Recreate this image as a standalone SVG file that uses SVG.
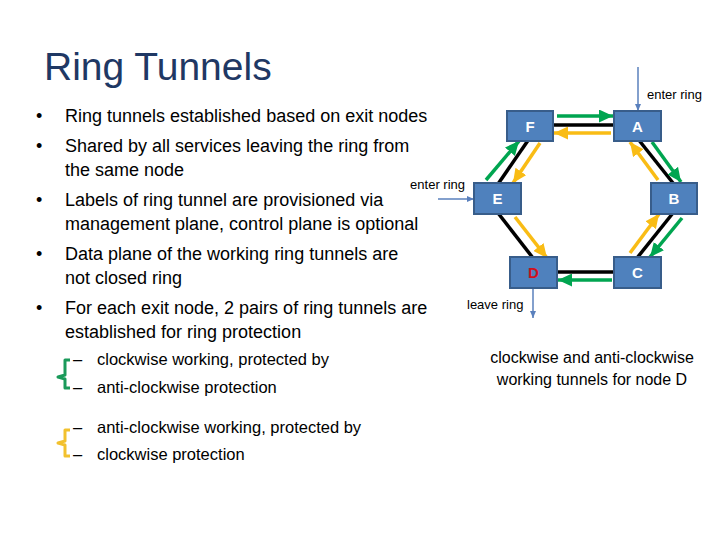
<svg xmlns="http://www.w3.org/2000/svg" width="720" height="540" viewBox="0 0 720 540">
<style>
.title{font-family:"Liberation Sans",Arial,sans-serif;font-size:39px;fill:#1f3864}
.body{font-family:"Liberation Sans",Arial,sans-serif;font-size:18px;fill:#000}
.sub{font-family:"Liberation Sans",Arial,sans-serif;font-size:16.5px;fill:#000}
.small{font-family:"Liberation Sans",Arial,sans-serif;font-size:13px;fill:#000}
.cap{font-family:"Liberation Sans",Arial,sans-serif;font-size:16px;fill:#000;text-anchor:middle}
.box{fill:#4f81bd;stroke:#385d8a;stroke-width:2}
.lbl{font-family:"Liberation Sans",Arial,sans-serif;font-size:15px;font-weight:bold;fill:#fff;text-anchor:middle}
.blk{stroke:#000;stroke-width:3.5;fill:none}
.grn{stroke:#00a550;stroke-width:3.5;fill:none;marker-end:url(#mg)}
.yel{stroke:#f9bc15;stroke-width:3.5;fill:none;marker-end:url(#my)}
.blu{stroke:#5a80bd;stroke-width:1.5;fill:none;marker-end:url(#mb)}
.brk{stroke-width:3;fill:none;stroke-linejoin:round}
</style>
<defs>
<marker id="mg" markerUnits="userSpaceOnUse" markerWidth="15" markerHeight="13" refX="14" refY="6.5" orient="auto"><path d="M0,0 L14,6.5 L0,13 z" fill="#00a550"/></marker>
<marker id="my" markerUnits="userSpaceOnUse" markerWidth="15" markerHeight="13" refX="14" refY="6.5" orient="auto"><path d="M0,0 L14,6.5 L0,13 z" fill="#f9bc15"/></marker>
<marker id="mb" markerUnits="userSpaceOnUse" markerWidth="8" markerHeight="8" refX="7" refY="4" orient="auto"><path d="M0,1 L7,4 L0,7 z" fill="#5a80bd"/></marker>
</defs>
<rect width="720" height="540" fill="#fff"/>
<text class="title" x="44" y="80">Ring Tunnels</text>
<g id="bullets">
<text class="body" x="36" y="122">•</text><text class="body" x="65" y="122">Ring tunnels established based on exit nodes</text>
<text class="body" x="36" y="152">•</text><text class="body" x="65" y="152">Shared by all services leaving the ring from</text>
<text class="body" x="65" y="176">the same node</text>
<text class="body" x="36" y="206">•</text><text class="body" x="65" y="206">Labels of ring tunnel are provisioned via</text>
<text class="body" x="65" y="230">management plane, control plane is optional</text>
<text class="body" x="36" y="260">•</text><text class="body" x="65" y="260">Data plane of the working ring tunnels are</text>
<text class="body" x="65" y="284">not closed ring</text>
<text class="body" x="36" y="314">•</text><text class="body" x="65" y="314">For each exit node, 2 pairs of ring tunnels are</text>
<text class="body" x="65" y="338">established for ring protection</text>
<text class="sub" x="73" y="365">–</text><text class="sub" x="97" y="365">clockwise working, protected by</text>
<text class="sub" x="73" y="393">–</text><text class="sub" x="97" y="393">anti-clockwise protection</text>
<text class="sub" x="73" y="433">–</text><text class="sub" x="97" y="433">anti-clockwise working, protected by</text>
<text class="sub" x="73" y="460">–</text><text class="sub" x="97" y="460">clockwise protection</text>
<path class="brk" stroke="#1a9a5a" d="M70,360 L65,360 L65,375 L58,377 L65,379 L65,388 L70,388"/>
<path class="brk" stroke="#f2c12e" d="M70,430 L65,430 L65,441 L58,443 L65,445 L65,456 L70,456"/>
</g>
<g id="connectors">
<line class="blk" x1="553" y1="125" x2="614" y2="125"/>
<line class="blk" x1="529" y1="139" x2="498" y2="184"/>
<line class="blk" x1="638" y1="139" x2="673" y2="183"/>
<line class="blk" x1="498" y1="213" x2="533" y2="258"/>
<line class="blk" x1="557" y1="272" x2="614" y2="272"/>
<line class="blk" x1="637" y1="258" x2="673" y2="213"/>
<line class="grn" x1="557" y1="116" x2="613" y2="116"/>
<line class="yel" x1="611" y1="133" x2="554" y2="133"/>
<line class="grn" x1="486" y1="180" x2="519" y2="141"/>
<line class="yel" x1="540" y1="143" x2="513" y2="183"/>
<line class="grn" x1="652" y1="142" x2="681" y2="182"/>
<line class="yel" x1="658" y1="180" x2="630" y2="142"/>
<line class="yel" x1="515" y1="217" x2="547" y2="258"/>
<line class="grn" x1="612" y1="280" x2="558" y2="280"/>
<line class="grn" x1="682" y1="218" x2="650" y2="257"/>
<line class="yel" x1="630" y1="253" x2="659" y2="214"/>
<line class="blu" x1="638" y1="67" x2="638" y2="111"/>
<line class="blu" x1="438" y1="199" x2="474" y2="199"/>
<line class="blu" x1="533" y1="289" x2="533" y2="318"/>
</g>
<g id="node-F"><rect class="box" x="507" y="111" width="46" height="30"/><text class="lbl" x="530" y="131.5">F</text></g>
<g id="node-A"><rect class="box" x="614" y="111" width="47" height="30"/><text class="lbl" x="637.5" y="131.5">A</text></g>
<g id="node-E"><rect class="box" x="474" y="183" width="47" height="31"/><text class="lbl" x="497.5" y="204">E</text></g>
<g id="node-B"><rect class="box" x="651" y="183" width="46" height="31"/><text class="lbl" x="674" y="204">B</text></g>
<g id="node-D"><rect class="box" x="510" y="257" width="47" height="31"/><text class="lbl" x="533.5" y="278" style="fill:#d0101c">D</text></g>
<g id="node-C"><rect class="box" x="614" y="257" width="47" height="31"/><text class="lbl" x="637.5" y="278">C</text></g>
<g id="labels">
<text class="small" x="647" y="99">enter ring</text>
<text class="small" x="465" y="189" text-anchor="end">enter ring</text>
<text class="small" x="467" y="309">leave ring</text>
<text class="cap" x="592" y="363">clockwise and anti-clockwise</text>
<text class="cap" x="592" y="385">working tunnels for node D</text>
</g>
</svg>
